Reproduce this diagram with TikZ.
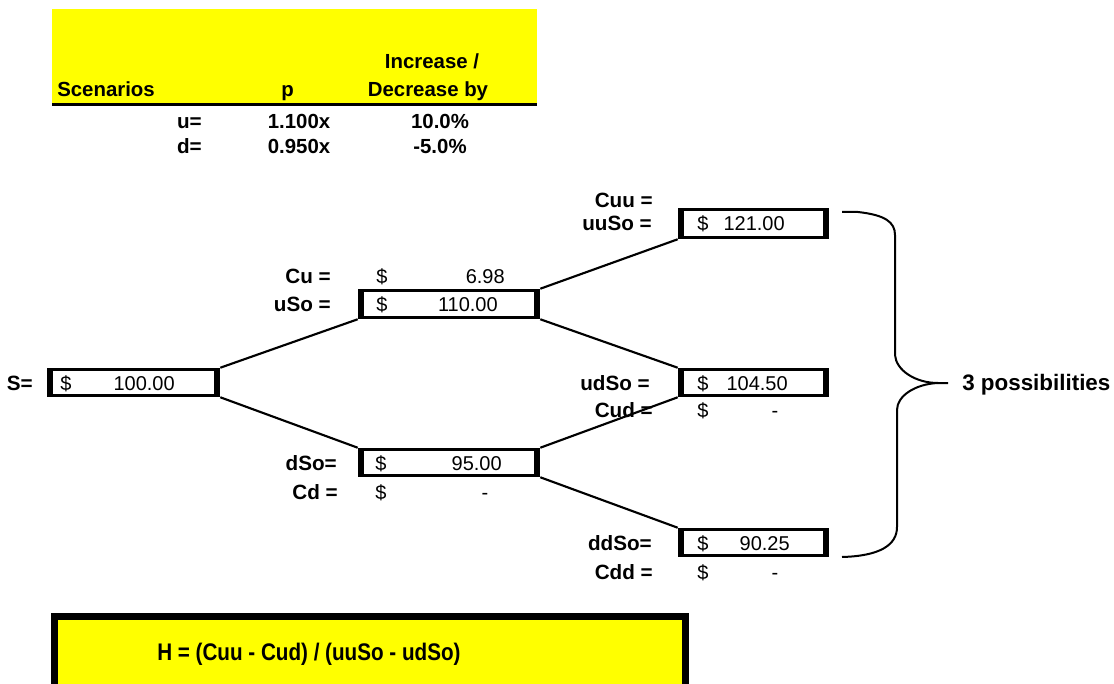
\documentclass[tikz,border=0pt]{standalone}
\usepackage{fontspec}
\setmainfont{Liberation Sans}
\newfontfamily\narrowfont[FakeStretch=0.86]{Liberation Sans}
\definecolor{xlyellow}{RGB}{255,255,0}
\newcommand{\cellborder}[1]{%
  \draw[line width=2.6pt] ([shift={(1.3pt,-1.3pt)}]#1.north west) rectangle ([shift={(-1.3pt,1.3pt)}]#1.south east);
  \fill (#1.north west) rectangle ([shift={(4.9pt,0pt)}]#1.south west);
  \fill ([shift={(-4.6pt,0pt)}]#1.north east) rectangle (#1.south east);
}
\begin{document}
\begin{tikzpicture}[x=0.75pt,y=-0.75pt,
  lbl/.style={font=\fontsize{15.5}{18}\selectfont\bfseries, inner sep=0pt, anchor=base east},
  hdr/.style={font=\fontsize{15.3}{18}\selectfont\bfseries, inner sep=0pt, anchor=base},
  dollar/.style={font=\fontsize{15}{18}\selectfont, inner sep=0pt, anchor=base west},
  num/.style={font=\fontsize{15}{18}\selectfont, inner sep=0pt, anchor=base east},
  zerodash/.style={font=\fontsize{15}{18}\selectfont, inner sep=0pt, anchor=base},
  cell/.style={rectangle, inner sep=0pt, draw=none},
  conn/.style={line width=1.6pt},
  brace/.style={line width=1.5pt},
]
\useasboundingbox (0,0) rectangle (1114,684);

% header
\fill[xlyellow] (52,9) rectangle (537,104);
\coordinate (hl) at (52,104.5);
\coordinate (hr) at (537,104.5);
\draw[line width=2.2pt] (hl) -- (hr);
\node[hdr, anchor=base west] (h1) at (57,97) {Scenarios};
\node[hdr] (h2) at (287.5,97) {p};
\node[hdr] (h3) at (432,69) {Increase /};
\node[hdr] (h4) at (428,97) {Decrease by};
\node[lbl] (h5) at (202,129) {u=};
\node[hdr] (h6) at (299,129) {1.100x};
\node[hdr] (h7) at (440,129) {10.0\%};
\node[lbl] (h8) at (202,154) {d=};
\node[hdr] (h9) at (299,154) {0.950x};
\node[hdr] (h10) at (440,154) {-5.0\%};

% cells
\node[cell, minimum width=173*0.75pt, minimum height=29*0.75pt] (S) at (133.5,382.5) {};
\node[cell, minimum width=182*0.75pt, minimum height=30*0.75pt] (uSo) at (449,304) {};
\node[cell, minimum width=182*0.75pt, minimum height=29*0.75pt] (dSo) at (449,462.5) {};
\node[cell, minimum width=151*0.75pt, minimum height=31*0.75pt] (uuSo) at (753.5,223.5) {};
\node[cell, minimum width=151*0.75pt, minimum height=29*0.75pt] (udSo) at (753.5,382.5) {};
\node[cell, minimum width=151*0.75pt, minimum height=29*0.75pt] (ddSo) at (753.5,542.5) {};
\cellborder{S}
\cellborder{uSo}
\cellborder{dSo}
\cellborder{uuSo}
\cellborder{udSo}
\cellborder{ddSo}

% connectors
\draw[conn] (S.north east) -- (uSo.south west);
\draw[conn] (S.south east) -- (dSo.north west);
\draw[conn] (uSo.north east) -- (uuSo.south west);
\draw[conn] (uSo.south east) -- (udSo.north west);
\draw[conn] (dSo.north east) -- (udSo.south west);
\draw[conn] (dSo.south east) -- (ddSo.north west);

% S row
\node[lbl] (lS) at (33,390) {S=};
\node[dollar] (dS) at (60,390) {\$};
\node[num] (vS) at (175,390) {100.00};
% Cu / uSo
\node[lbl] (lCu) at (331,284) {Cu =};
\node[dollar] (dCu) at (376,284) {\$};
\node[num] (vCu) at (505,284) {6.98};
\node[lbl] (luSo) at (331,311) {uSo =};
\node[dollar] (duSo) at (376,311) {\$};
\node[num] (vuSo) at (498,311) {110.00};
% dSo / Cd
\node[lbl] (ldSo) at (337,470) {dSo=};
\node[dollar] (ddSo1) at (375,470) {\$};
\node[num] (vdSo) at (502,470) {95.00};
\node[lbl] (lCd) at (338,499) {Cd =};
\node[dollar] (dCd) at (375,499) {\$};
\node[zerodash] (vCd) at (485,499) {-};
% Cuu / uuSo
\node[lbl] (lCuu) at (653,208) {Cuu =};
\node[lbl] (luuSo) at (652,231) {uuSo =};
\node[dollar] (duuSo) at (697,231) {\$};
\node[num] (vuuSo) at (785,231) {121.00};
% udSo / Cud
\node[lbl] (ludSo) at (650,390) {udSo =};
\node[dollar] (dudSo) at (697,390) {\$};
\node[num] (vudSo) at (788,390) {104.50};
\node[lbl] (lCud) at (653,417) {Cud =};
\node[dollar] (dCud) at (697,417) {\$};
\node[zerodash] (vCud) at (775,417) {-};
% ddSo / Cdd
\node[lbl] (lddSo) at (652,550) {ddSo=};
\node[dollar] (dddSo) at (697,550) {\$};
\node[num] (vddSo) at (790,550) {90.25};
\node[lbl] (lCdd) at (653,579) {Cdd =};
\node[dollar] (dCdd) at (697,579) {\$};
\node[zerodash] (vCdd) at (775,579) {-};

% brace
\coordinate (bt) at (842,212);
\coordinate (tip) at (948,383);
\coordinate (bb) at (842,557);
\draw[brace] (bt) -- (858,212) .. controls (885,215) and (895,222) .. (895,235)
  -- (895,355) .. controls (896,370) and (915,383) .. (938,383) -- (tip);
\draw[brace] (938,383) .. controls (915,384) and (897,396) .. (897,410)
  -- (897,527) .. controls (897,545) and (880,556) .. (bb);
\node[hdr, anchor=base west, font=\fontsize{16.8}{20}\selectfont\bfseries] (poss) at (962,390) {3 possibilities};

% bottom formula box
\begin{scope}
\clip (0,0) rectangle (1114,684);
\node[draw, line width=5.25pt, fill=xlyellow, inner sep=0pt, minimum width=631*0.75pt, minimum height=120*0.75pt, anchor=north west] (Hbox) at (50.5,612.5) {};
\end{scope}
\node[inner sep=0pt, anchor=base west, font=\narrowfont\fontsize{18}{22}\selectfont\bfseries] (Htxt) at (157,660) {H = (Cuu - Cud) / (uuSo - udSo)};
\end{tikzpicture}
\end{document}
